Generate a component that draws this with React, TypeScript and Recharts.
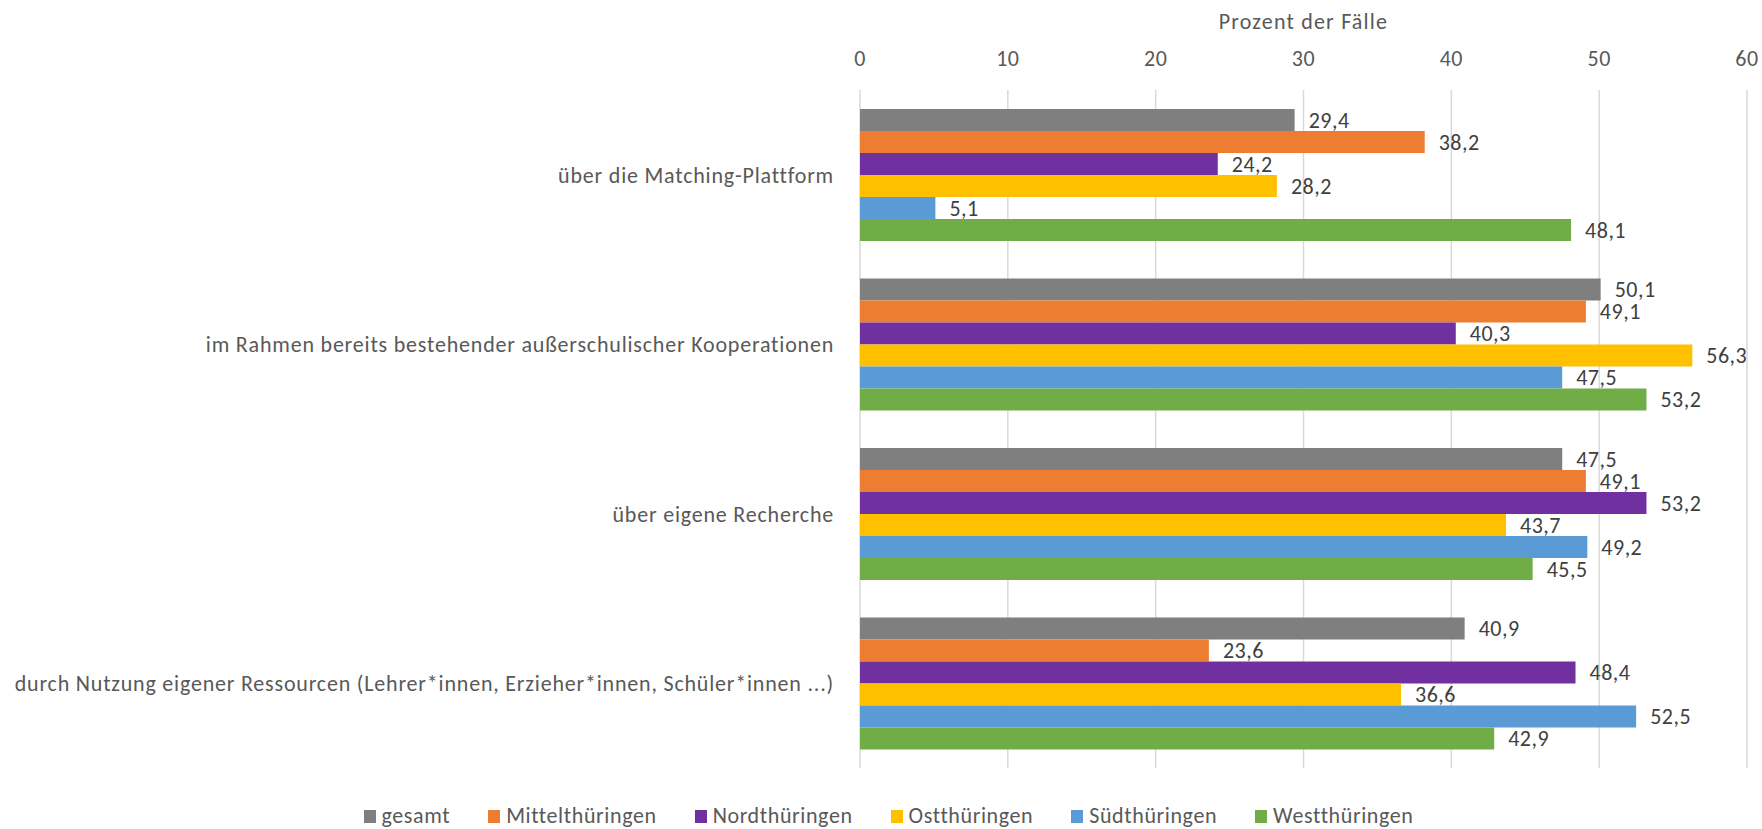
import { BarChart, Bar, XAxis, YAxis, CartesianGrid, Legend, LabelList } from 'recharts';

const categories = [
  'über die Matching-Plattform',
  'im Rahmen bereits bestehender außerschulischer Kooperationen',
  'über eigene Recherche',
  'durch Nutzung eigener Ressourcen (Lehrer*innen, Erzieher*innen, Schüler*innen ...)',
];

const gesamt = [29.4, 50.1, 47.5, 40.9];
const mittel = [38.2, 49.1, 49.1, 23.6];
const nord = [24.2, 40.3, 53.2, 48.4];
const ost = [28.2, 56.3, 43.7, 36.6];
const sued = [5.1, 47.5, 49.2, 52.5];
const west = [48.1, 53.2, 45.5, 42.9];

const xTicks = [0, 10, 20, 30, 40, 50, 60];

const series = [
  { key: 'gesamt', name: 'gesamt', color: '#7f7f7f', values: gesamt },
  { key: 'mittel', name: 'Mittelthüringen', color: '#ed7d31', values: mittel },
  { key: 'nord', name: 'Nordthüringen', color: '#7030a0', values: nord },
  { key: 'ost', name: 'Ostthüringen', color: '#ffc000', values: ost },
  { key: 'sued', name: 'Südthüringen', color: '#5b9bd5', values: sued },
  { key: 'west', name: 'Westthüringen', color: '#70ad47', values: west },
];

const data = categories.map((cat, i) => {
  const row: Record<string, string | number> = { cat };
  series.forEach(s => { row[s.key] = s.values[i]; });
  return row;
});

const FONT = "Carlito, Calibri, 'Liberation Sans Narrow', 'Open Sans', sans-serif";
const TXT = { fontSize: 22, fill: '#595959', fontFamily: FONT, letterSpacing: 0.5 };
const fmt = (v: any) => Number(v).toFixed(1).replace('.', ',');

const LegendBox = () => (
  <div style={{ height: 61, paddingTop: 34, boxSizing: 'border-box', paddingLeft: 30, display: 'flex', justifyContent: 'center', gap: 38, fontFamily: FONT, fontSize: 22, letterSpacing: 0.6, color: '#595959' }}>
    {series.map(s => (
      <div key={s.key} style={{ display: 'flex', alignItems: 'flex-start', gap: 6, lineHeight: '27px' }}>
        <div style={{ width: 12, height: 13, marginTop: 8, background: s.color }} />
        <span>{s.name}</span>
      </div>
    ))}
  </div>
);

export default function App() {
  return (
    <div style={{ position: 'absolute', left: 0, top: 0, background: '#fff', overflow: 'hidden', width: 1762, height: 829 }}>
      <BarChart
        width={1762}
        height={829}
        data={data}
        layout="vertical"
        margin={{ top: 0, right: 15, bottom: 0, left: 0 }}
        barCategoryGap={19}
        barGap={0}
      >
        <CartesianGrid horizontal={false} stroke="#d9d9d9" strokeWidth={1.5} />
        <XAxis
          type="number"
          orientation="top"
          domain={[0, 60]}
          ticks={xTicks}
          axisLine={false}
          tickLine={false}
          height={90}
          tickMargin={18}
          tick={TXT}
          label={{ value: 'Prozent der Fälle', position: 'insideTop', offset: 13, ...TXT, letterSpacing: 1.2 }}
        />
        <YAxis
          type="category"
          dataKey="cat"
          width={860}
          axisLine={false}
          tickLine={false}
          tickMargin={20}
          tick={{ ...TXT, letterSpacing: 0.8 }}
        />
        <Legend verticalAlign="bottom" height={61} content={<LegendBox />} />
        {series.map(s => (
          <Bar key={s.key} dataKey={s.key} name={s.name} fill={s.color} isAnimationActive={false}>
            <LabelList dataKey={s.key} position="right" offset={14} formatter={fmt} style={{ fontSize: 22, fill: '#404040', fontFamily: FONT, letterSpacing: 0.5 }} />
          </Bar>
        ))}
      </BarChart>
    </div>
  );
}
